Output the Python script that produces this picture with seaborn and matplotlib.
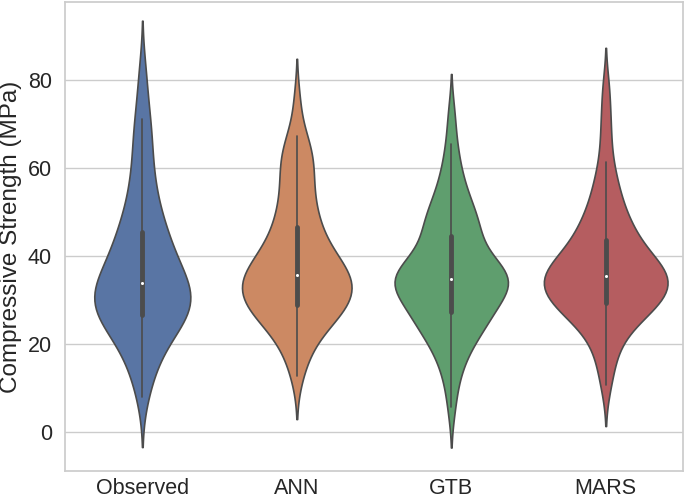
import numpy as np
import pandas as pd
import matplotlib
matplotlib.use("Agg")
import matplotlib.pyplot as plt
import seaborn as sns

# Compressive strength values (MPa)
categories = ["Observed", "ANN", "GTB", "MARS"]

observed = [8.0, 11.5, 14.0, 16.0, 17.7, 19.1, 20.3, 21.4, 22.4, 23.3, 24.1, 24.8, 25.4, 25.9, 26.3,
            26.8, 27.3, 27.8, 28.3, 28.8, 29.2, 29.6, 30.0, 30.5, 31.0, 31.5, 32.0, 32.5, 33.0, 33.5,
            34.0, 34.6, 35.2, 35.8, 36.5, 37.2, 38.0, 38.8, 39.6, 40.5, 41.4, 42.3, 43.3, 44.3, 45.2,
            46.0, 47.3, 48.7, 50.2, 51.8, 53.6, 55.6, 57.8, 60.3, 63.0, 66.0, 68.8, 71.0, 76.0, 82.0]

ann = [12.7, 16.0, 18.5, 20.3, 21.8, 23.0, 24.0, 24.9, 25.7, 26.4, 27.0, 27.5, 28.0, 28.4, 28.5,
       28.9, 29.5, 30.1, 30.7, 31.2, 31.7, 32.2, 32.6, 33.0, 33.4, 33.8, 34.2, 34.6, 35.0, 35.4,
       35.8, 36.3, 36.8, 37.3, 37.9, 38.5, 39.1, 39.8, 40.5, 41.3, 42.1, 43.0, 44.0, 45.1, 46.4,
       47.4, 48.5, 49.8, 51.2, 52.8, 54.5, 56.3, 58.0, 59.5, 61.0, 62.5, 64.0, 65.8, 67.2, 75.0]

gtb = [5.8, 11.5, 14.5, 16.8, 18.6, 20.0, 21.2, 22.3, 23.2, 24.0, 24.8, 25.5, 26.1, 26.6, 26.9,
       27.3, 28.3, 29.2, 30.0, 30.7, 31.3, 31.8, 32.3, 32.7, 33.1, 33.5, 33.9, 34.2, 34.5, 34.7,
       34.9, 35.2, 35.5, 35.8, 36.2, 36.6, 37.0, 37.5, 38.1, 38.8, 39.6, 40.5, 41.6, 42.9, 44.4,
       45.2, 45.8, 46.5, 47.2, 48.1, 49.1, 50.2, 51.4, 52.8, 54.4, 56.3, 58.6, 61.6, 65.5, 72.0]

mars = [10.6, 14.5, 17.5, 19.8, 21.7, 23.2, 24.4, 25.4, 26.3, 27.0, 27.6, 28.1, 28.5, 28.8, 29.1,
        29.4, 30.0, 30.6, 31.1, 31.6, 32.0, 32.4, 32.8, 33.2, 33.6, 34.0, 34.4, 34.8, 35.1, 35.3,
        35.6, 35.9, 36.3, 36.7, 37.1, 37.5, 38.0, 38.5, 39.0, 39.6, 40.3, 41.0, 41.8, 42.6, 43.5,
        44.2, 45.0, 45.9, 46.9, 48.0, 49.2, 50.6, 52.2, 54.0, 56.0, 58.2, 61.4, 66.5, 71.5, 78.0]

df = pd.DataFrame({
    "Model": np.repeat(categories, [len(observed), len(ann), len(gtb), len(mars)]),
    "Strength": observed + ann + gtb + mars,
})

sns.set_theme(style="whitegrid")
plt.rcParams["font.family"] = ["Liberation Sans", "DejaVu Sans"]

fig = plt.figure(figsize=(6.85, 4.99), dpi=100)
ax = fig.add_axes([0.095, 0.057, 0.902, 0.938])

sns.violinplot(data=df, x="Model", y="Strength", hue="Model", palette="deep",
               legend=False, common_norm=True, bw_adjust=0.8, linewidth=1.2,
               inner_kws=dict(box_width=3.5, whis_width=1.2, marker="."), ax=ax)

ax.set_ylim(-8.7, 97.5)
ax.set_yticks([0, 20, 40, 60, 80])
ax.set_xlabel("")
ax.set_ylabel("Compressive Strength (MPa)", fontsize=17.5, labelpad=4)
ax.tick_params(axis="both", labelsize=15.5, colors=".15")
ax.tick_params(axis="x", pad=-1)

fig.savefig("out.png", dpi=100)
